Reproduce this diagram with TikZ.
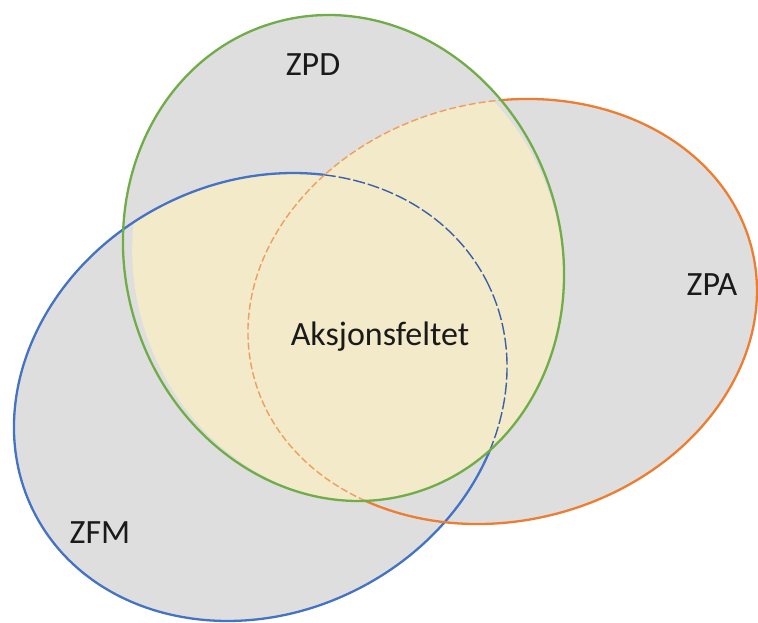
\documentclass[tikz,border=0pt]{standalone}
\usepackage{fontspec}
\setmainfont{Carlito}
\definecolor{zgray}{HTML}{DEDEDF}
\definecolor{zyellow}{HTML}{F2EAC9}
\definecolor{zgreen}{HTML}{70AD47}
\definecolor{zorange}{HTML}{ED7D31}
\definecolor{zblue}{HTML}{4472C4}
\definecolor{ztext}{HTML}{1A1A1A}
\tikzset{
  zrot/.style={rotate around={17.5:(gc)}},
  orot/.style={rotate around={14.2:(oc)}},
  brot/.style={rotate around={27.2:(bc)}},
  yrot/.style={rotate around={17.5:(yc)}},
  rim/.style={line width=2.3pt},
  faintdash/.style={line width=1.4pt, dash pattern=on 7pt off 3pt},
  lbl/.style={font=\fontsize{34}{37}\selectfont, text=ztext, inner sep=0pt}
}
\begin{document}
\begin{tikzpicture}[x=1pt,y=-1pt]
\fill[white] (0,0) rectangle (758,623);
\useasboundingbox (0,0) rectangle (758,623);
\coordinate (gc) at (343.5,258);
\coordinate (yc) at (348,265);
\coordinate (oc) at (502.5,311.5);
\coordinate (bc) at (260.5,397);
\def\gshape{(gc) ellipse [x radius=217.9, y radius=245.3]}
\def\yshape{(yc) ellipse [x radius=213.4, y radius=238]}
\def\oshape{(oc) ellipse [x radius=257.1, y radius=209.3]}
\def\bshape{(bc) ellipse [x radius=254.1, y radius=215.3]}
% gray fills
\fill[zgray, zrot] \gshape;
\fill[zgray, orot] \oshape;
\fill[zgray, brot] \bshape;
% solid rims of blue and orange
\draw[zblue, rim, brot] \bshape;
\draw[zorange, rim, orot] \oshape;
% inside the green ellipse
\begin{scope}
  \clip[zrot] \gshape;
  \fill[zgray] (0,0) rectangle (758,623);
  \begin{scope}
    \clip[yrot] \yshape;
    \fill[zyellow, brot] \bshape;
    \fill[zyellow, orot] \oshape;
  \end{scope}
  \draw[zblue, rim, brot] \bshape;
  \begin{scope}
    \clip[orot] \oshape;
    \begin{scope}
      \clip[yrot] \yshape;
      \fill[zyellow, orot] \oshape;
    \end{scope}
    \draw[zblue!85!black, faintdash, dash pattern=on 12pt off 3pt, brot] \bshape;
  \end{scope}
  \draw[zorange!70!zyellow, faintdash, orot] \oshape;
\end{scope}
\draw[zgreen, rim, zrot] \gshape;
% labels
\node[lbl] (zpd) at (313,65) {ZPD};
\node[lbl] (zpa) at (712,285) {ZPA};
\node[lbl] (zfm) at (100,533) {ZFM};
\node[lbl] (aks) at (380,337) {Aksjonsfeltet};
\end{tikzpicture}
\end{document}
